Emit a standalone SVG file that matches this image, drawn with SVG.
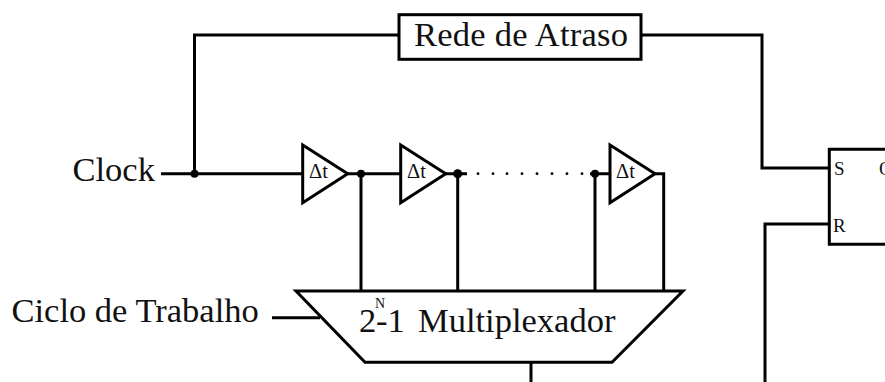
<svg xmlns="http://www.w3.org/2000/svg" width="885" height="382" viewBox="0 0 885 382">
<style>
text{font-family:"Liberation Serif","Times New Roman",serif;fill:#111}
.w{fill:none;stroke:#000;stroke-width:3}
.s{fill:#fff;stroke:#000;stroke-width:3}
.l{font-size:34.5px}
.d{font-size:20.5px}
.p{font-size:19px}
.j{fill:#000;stroke:none}
</style>
<rect width="885" height="382" fill="#fff"/>
<g id="connectors">
<path class="w" d="M161 173.7H302M194.5 173.7V35H399M348 173.7H401M446 173.7H467M590 173.7H610M655 173.7H663.7V291M361 173.7V291M457.7 173.7V291M595 173.7V291M272 317.7H320M531 362V382M641 35H762V168H829M829 224H765V382"/>
<circle class="j" cx="194.5" cy="173.7" r="4"/>
<circle class="j" cx="361" cy="173.7" r="4"/>
<circle class="j" cx="457.7" cy="173.7" r="4.5"/>
<circle class="j" cx="595" cy="173.7" r="4"/>
<g class="j"><circle cx="478" cy="173.7" r="1.4"/><circle cx="493" cy="173.7" r="1.4"/><circle cx="507" cy="173.7" r="1.4"/><circle cx="522" cy="173.7" r="1.4"/><circle cx="537" cy="173.7" r="1.4"/><circle cx="552" cy="173.7" r="1.4"/><circle cx="567" cy="173.7" r="1.4"/><circle cx="582" cy="173.7" r="1.4"/></g>
</g>
<g id="clock-label"><text class="l" x="72.5" y="181">Clock</text></g>
<g id="duty-label"><text class="l" x="11.5" y="321.5">Ciclo de Trabalho</text></g>
<g id="delay-network"><rect class="s" x="399" y="14.7" width="242" height="44.6"/><text class="l" x="414" y="46" letter-spacing="0.25">Rede de Atraso</text></g>
<g id="delay-1"><path class="s" d="M302.7 145L347.7 173.7L302.7 202.7Z"/><text class="d" x="309" y="178">Δt</text></g>
<g id="delay-2"><path class="s" d="M400.7 145L445.7 173.7L400.7 202.7Z"/><text class="d" x="407" y="178">Δt</text></g>
<g id="delay-3"><path class="s" d="M610 145L655 173.7L610 202.7Z"/><text class="d" x="616" y="178">Δt</text></g>
<g id="multiplexer"><path class="s" d="M296 291H683L612 362.3H365Z"/>
<text class="l" x="359" y="331.7">2<tspan x="375" y="308" style="font-size:14px">N</tspan><tspan x="376" y="331.7">-1</tspan><tspan x="418" y="331.7">Multiplexador</tspan></text></g>
<g id="latch"><path class="w" d="M885 149.3H829.3V244.3H885"/><text class="p" x="834" y="175">S</text><text class="p" x="833" y="231.5">R</text><text class="p" x="879" y="175">Q</text></g>
</svg>
